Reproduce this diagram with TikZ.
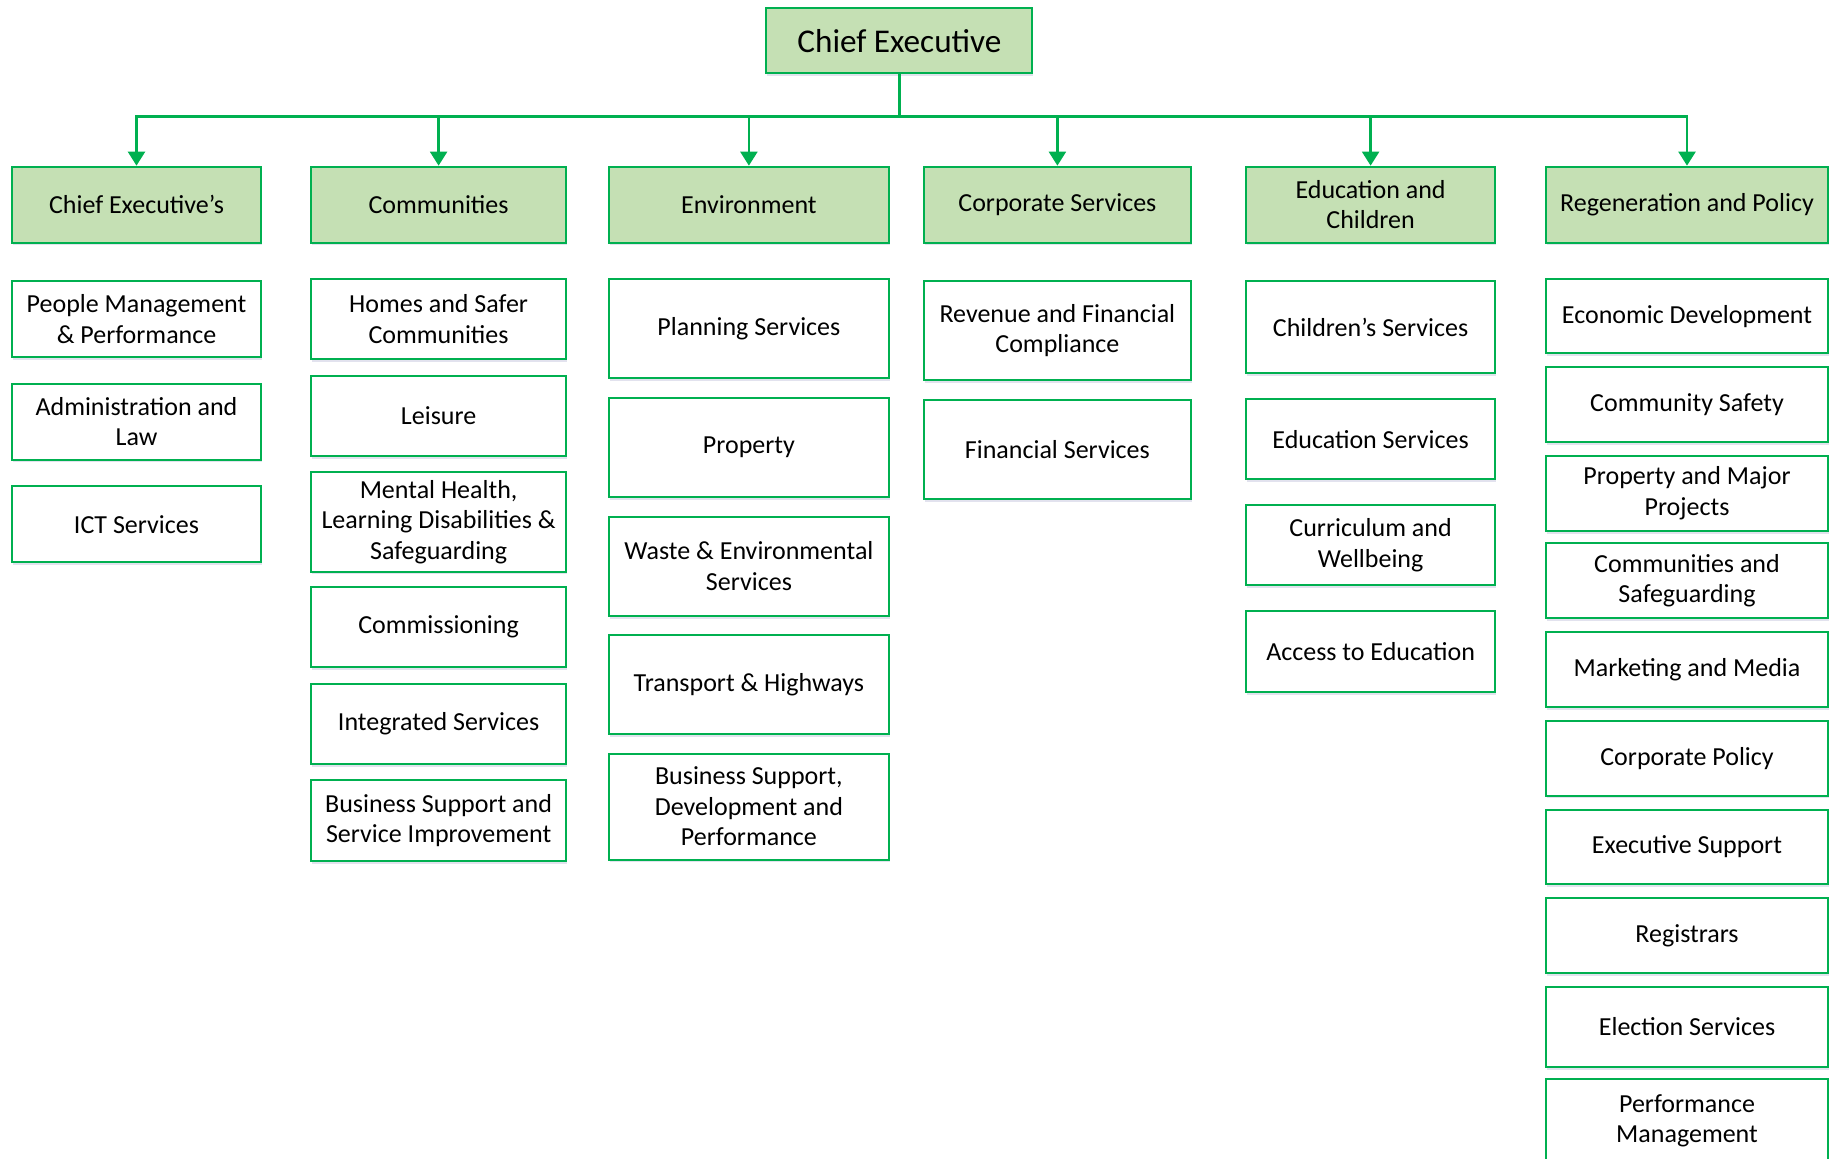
\documentclass[tikz,border=0pt]{standalone}
\usepackage{fontspec}
\setmainfont{Carlito}
\usepackage{xcolor}
\usetikzlibrary{positioning,arrows.meta,shadows}

\definecolor{lineGreen}{RGB}{0,176,80}
\definecolor{fillGreen}{RGB}{197,224,180}

\begin{document}
\begin{tikzpicture}[
	x=0.5pt, y=-0.5pt,
	box/.style={
		rectangle, draw=lineGreen, line width=1pt,
		align=center, inner sep=2pt,
		font=\fontsize{13}{15.25}\selectfont,
		drop shadow={shadow xshift=0.4pt, shadow yshift=-1.4pt, fill=blue!25!gray!40, opacity=0.45}
	},
	head/.style={
		box, fill=fillGreen, minimum width=133pt, minimum height=32.6pt,
		font=\fontsize{16.6}{19}\selectfont
	},
	dept/.style={box, fill=fillGreen, minimum height=38pt},
	svc/.style={box, fill=white},
	link/.style={
		draw=lineGreen, line width=1.4pt,
		-{Triangle[width=8.4pt,length=7pt]}
	}
	]
	
	\useasboundingbox (0,0) rectangle (1829,1159);
	
	% --- TOP ---
	\node[head] (ce) at (899.4,40.8) {Chief Executive};
	
	% --- COLUMN 1 (Chief Executive's) ---
	\begin{scope}[shift={(136.5,0)}, every node/.append style={minimum width=124.8pt}]
		\node[dept] (dCE) at (0,204.7) {Chief Executive’s};
		\node[svc, minimum height=38pt] (ppl) at (0,319) {People Management\\\& Performance};
		\node[svc, minimum height=38pt] (admin) at (0,421.7) {Administration and\\Law};
		\node[svc, minimum height=38pt] (ict) at (0,524.4) {ICT Services};
	\end{scope}
	
	% --- COLUMN 2 (Communities) ---
	\begin{scope}[shift={(438.6,0)}, every node/.append style={minimum width=127.2pt}]
		\node[dept] (dCom) at (0,204.7) {Communities};
		\node[svc, minimum height=40.2pt] (homes) at (0,319) {Homes and Safer\\Communities};
		\node[svc, minimum height=40.2pt] (leisure) at (0,415.9) {Leisure};
		\node[svc, minimum height=49.6pt] (mental) at (0,522) {Mental Health,\\Learning Disabilities \&\\Safeguarding};
		\node[svc, minimum height=40.2pt] (commiss) at (0,627) {Commissioning};
		\node[svc, minimum height=40.2pt] (integ) at (0,723.8) {Integrated Services};
		\node[svc, minimum height=40.2pt] (bsi) at (0,820.6) {Business Support and\\Service Improvement};
	\end{scope}
	
	% --- COLUMN 3 (Environment) ---
	\begin{scope}[shift={(748.9,0)}, every node/.append style={minimum width=140pt}]
		\node[dept] (dEnv) at (0,204.7) {Environment};
		\node[svc, minimum height=49.5pt] (plan) at (0,328.4) {Planning Services};
		\node[svc, minimum height=49.5pt] (prop) at (0,447.4) {Property};
		\node[svc, minimum height=49.5pt] (waste) at (0,566.3) {Waste \& Environmental\\Services};
		\node[svc, minimum height=49.5pt] (trans) at (0,684.7) {Transport \& Highways};
		\node[svc, minimum height=53pt] (bsdp) at (0,806.6) {Business Support,\\Development and\\Performance};
	\end{scope}
	
	% --- COLUMN 4 (Corporate Services) ---
	\begin{scope}[shift={(1057.4,0)}, every node/.append style={minimum width=133.5pt}]
		\node[dept] (dCorp) at (0,204.7) {Corporate Services};
		\node[svc, minimum height=49.5pt] (rev) at (0,330.7) {Revenue and Financial\\Compliance};
		\node[svc, minimum height=49.5pt] (fin) at (0,449.7) {Financial Services};
	\end{scope}
	
	% --- COLUMN 5 (Education and Children) ---
	\begin{scope}[shift={(1370.6,0)}, every node/.append style={minimum width=124.8pt}]
		\node[dept] (dEdu) at (0,204.7) {Education and\\Children};
		\node[svc, minimum height=46pt] (child) at (0,327.2) {Children’s Services};
		\node[svc, minimum height=40.2pt] (edus) at (0,439.2) {Education Services};
		\node[svc, minimum height=40.2pt] (curr) at (0,545.3) {Curriculum and\\Wellbeing};
		\node[svc, minimum height=40.2pt] (access) at (0,651.5) {Access to Education};
	\end{scope}
	
	% --- COLUMN 6 (Regeneration and Policy) ---
	\begin{scope}[shift={(1687,0)}, every node/.append style={minimum width=141pt}]
		\node[dept] (dRegen) at (0,204.7) {Regeneration and Policy};
		\node[svc, minimum height=37.4pt] (econ) at (0,316.1) {Economic Development};
		\node[svc, minimum height=37.4pt] (csafe) at (0,404.8) {Community Safety};
		\node[svc, minimum height=37.4pt] (propmp) at (0,493.4) {Property and Major\\Projects};
		\node[svc, minimum height=37.4pt] (csafeg) at (0,580.9) {Communities and\\Safeguarding};
		\node[svc, minimum height=37.4pt] (mkt) at (0,669.6) {Marketing and Media};
		\node[svc, minimum height=37.4pt] (cpol) at (0,758.2) {Corporate Policy};
		\node[svc, minimum height=37.4pt] (exsup) at (0,846.9) {Executive Support};
		\node[svc, minimum height=37.4pt] (reg) at (0,935.5) {Registrars};
		\node[svc, minimum height=40.2pt] (elect) at (0,1027) {Election Services};
		\node[svc, minimum height=42pt] (perf) at (0,1121) {Performance\\Management};
	\end{scope}
	
	% --- CONNECTORS ---
	\draw[link] (ce.south) -- ++(0,42) -| (dCE.north);
	\draw[link] (ce.south) -- ++(0,42) -| (dCom.north);
	\draw[link] (ce.south) -- ++(0,42) -| (dEnv.north);
	\draw[link] (ce.south) -- ++(0,42) -| (dCorp.north);
	\draw[link] (ce.south) -- ++(0,42) -| (dEdu.north);
	\draw[link] (ce.south) -- ++(0,42) -| (dRegen.north);
	
\end{tikzpicture}
\end{document}
